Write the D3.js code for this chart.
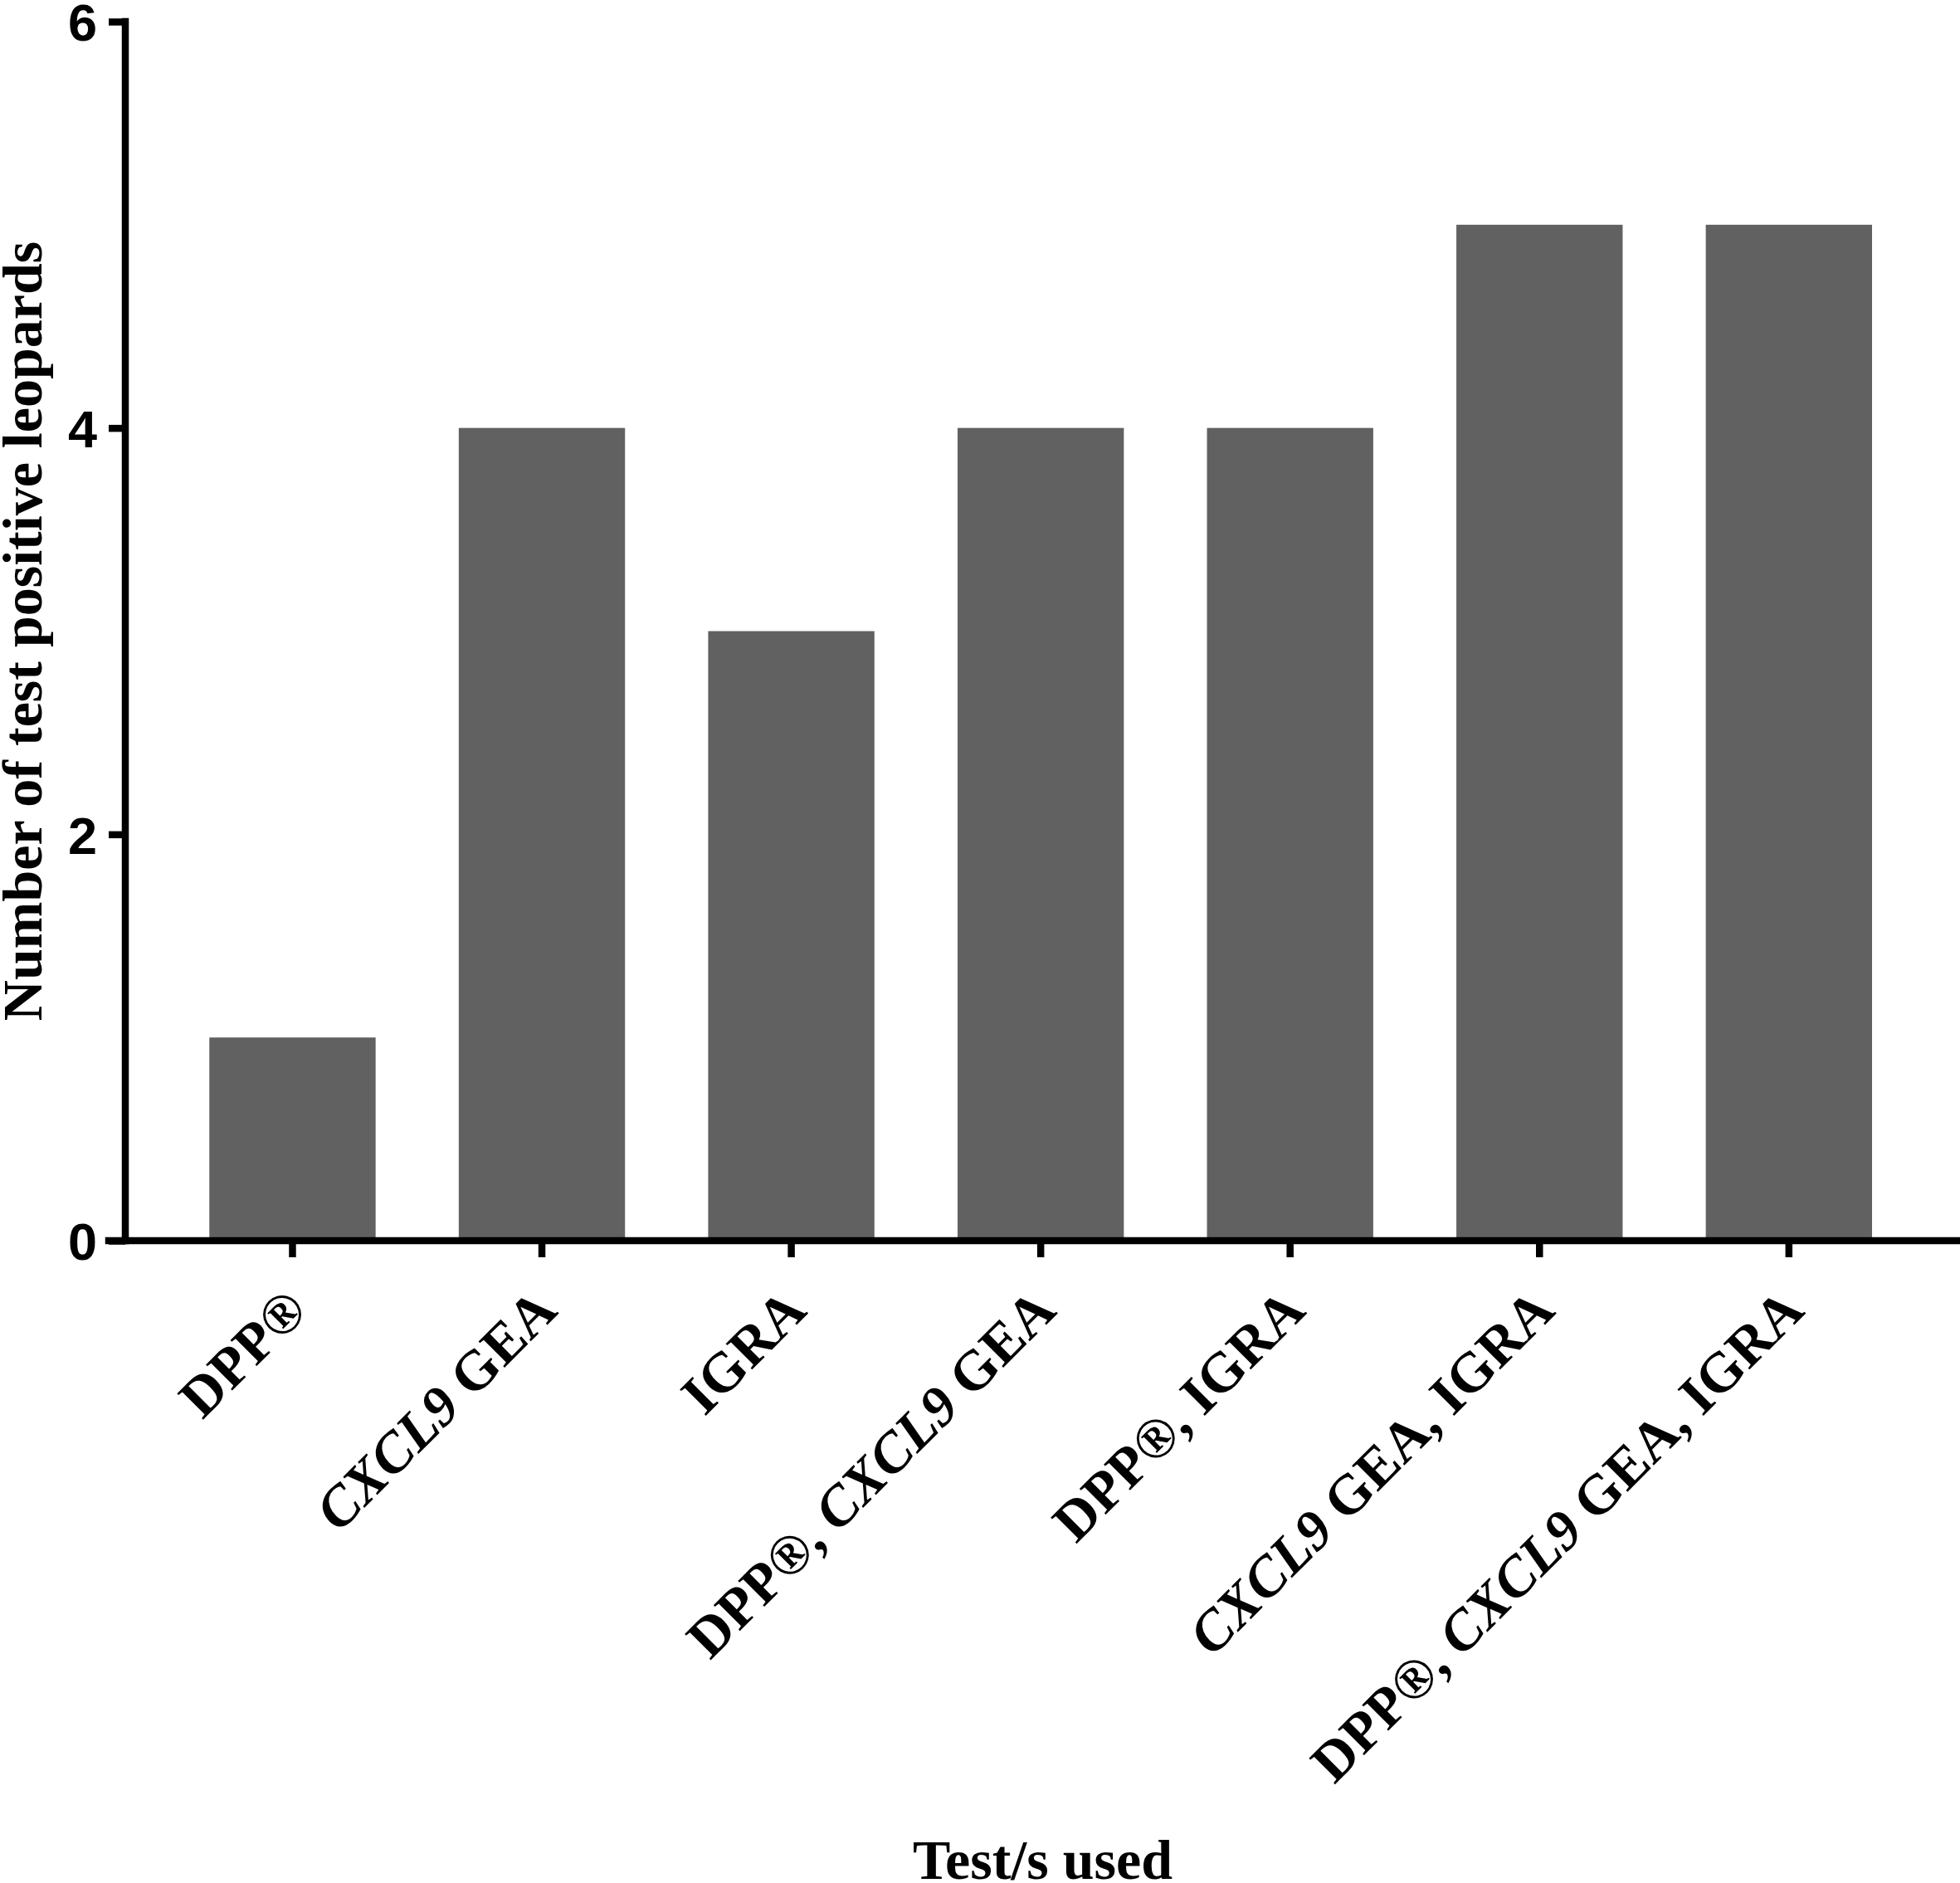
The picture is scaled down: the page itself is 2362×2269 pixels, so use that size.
<!DOCTYPE html>
<html>
<head>
<meta charset="utf-8">
<script src="https://cdn.jsdelivr.net/npm/d3@7"></script>
<style>
  html, body { margin: 0; padding: 0; background: #fff; }
  svg { display: block; }
</style>
</head>
<body>
<script>
// ---- data ----
const categories = [
  "DPP®",
  "CXCL9 GEA",
  "IGRA",
  "DPP®, CXCL9 GEA",
  "DPP®, IGRA",
  "CXCL9 GEA, IGRA",
  "DPP®, CXCL9 GEA, IGRA"
];
const values = [1, 4, 3, 4, 4, 5, 5];
const yTicks = [0, 2, 4, 6];
const xTitle = "Test/s used";
const yTitle = "Number of test positive leopards";

// ---- layout ----
const W = 2362, H = 2269;
const axisX = 151;          // y-axis position
const yTop = 26, yBottom = 1495;
const barColor = "#616161";
const serif = "'Liberation Serif', 'Times New Roman', serif";
const sans = "'Liberation Sans', Arial, sans-serif";

const svg = d3.select("body").append("svg")
  .attr("width", W).attr("height", H)
  .attr("viewBox", `0 0 ${W} ${H}`);

const x = d3.scaleBand()
  .domain(categories)
  .range([202.2, 2306.1])
  .paddingInner(1/3)
  .paddingOuter(1/6);

const y = d3.scaleLinear().domain([0, 6]).range([yBottom, yTop]);

// bars
svg.append("g").selectAll("rect")
  .data(categories.map((c, i) => ({c, v: values[i]})))
  .join("rect")
  .attr("x", d => x(d.c))
  .attr("width", x.bandwidth())
  .attr("y", d => y(d.v))
  .attr("height", d => y(0) - y(d.v))
  .attr("fill", barColor);

const tickLen = 20, strokeW = 8.5;

// y axis
const yAxis = svg.append("g")
  .attr("transform", `translate(${axisX},0)`)
  .call(d3.axisLeft(y).tickValues(yTicks).tickSize(tickLen).tickPadding(14).tickFormat(d3.format("d")));
yAxis.select(".domain").remove();
yAxis.append("line")
  .attr("x1", 0).attr("x2", 0)
  .attr("y1", y(6) - strokeW / 2).attr("y2", y(0) + strokeW / 2)
  .attr("stroke", "#000").attr("stroke-width", strokeW);
yAxis.selectAll(".tick line").attr("stroke", "#000").attr("stroke-width", strokeW);
yAxis.selectAll(".tick text")
  .attr("fill", "#000")
  .attr("font-family", sans)
  .attr("font-weight", "bold")
  .attr("font-size", 63)
  .attr("dy", "0.36em");

// x axis
const xAxis = svg.append("g")
  .attr("transform", `translate(0,${y(0)})`)
  .call(d3.axisBottom(x).tickSize(tickLen).tickSizeOuter(0));
xAxis.select(".domain").remove();
xAxis.append("line")
  .attr("x1", axisX - tickLen - strokeW / 2).attr("x2", W)
  .attr("y1", 0).attr("y2", 0)
  .attr("stroke", "#000").attr("stroke-width", strokeW);
xAxis.selectAll(".tick line").attr("stroke", "#000").attr("stroke-width", strokeW);

xAxis.selectAll(".tick text").each(function(d) {
  const t = d3.select(this);
  t.text(null)
    .attr("x", 0).attr("y", 0).attr("dy", null)
    .attr("text-anchor", "end")
    .attr("transform", `translate(21,87) rotate(-45)`)
    .attr("fill", "#000")
    .attr("font-family", serif)
    .attr("font-weight", "bold")
    .attr("font-size", 68);
  d.split(/(CXCL9)/).filter(s => s.length).forEach(seg => {
    t.append("tspan")
      .attr("font-style", seg === "CXCL9" ? "italic" : "normal")
      .text(seg);
  });
});

// axis titles
svg.append("text")
  .attr("x", (axisX + W) / 2)
  .attr("y", 2264)
  .attr("text-anchor", "middle")
  .attr("font-family", serif)
  .attr("font-weight", "bold")
  .attr("font-size", 68)
  .attr("fill", "#000")
  .text(xTitle);

svg.append("text")
  .attr("transform", `translate(50,${(y(0) + y(6)) / 2}) rotate(-90)`)
  .attr("text-anchor", "middle")
  .attr("font-family", serif)
  .attr("font-weight", "bold")
  .attr("font-size", 68)
  .attr("fill", "#000")
  .text(yTitle);
</script>
</body>
</html>
